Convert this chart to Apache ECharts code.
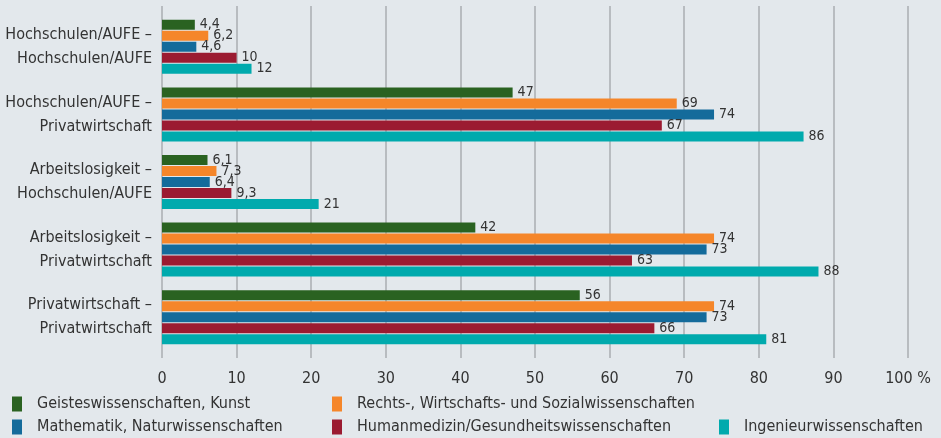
<!DOCTYPE html>
<html>
<head>
<meta charset="utf-8">
<script src="https://cdn.jsdelivr.net/npm/echarts@6/dist/echarts.min.js"></script>
<style>
  html, body { margin: 0; padding: 0; background: #e3e8ec; }
  #chart { width: 941px; height: 438px; }
</style>
</head>
<body>
<div id="chart"></div>
<script>
// Übergänge (von – nach)
var categories = [
  'Hochschulen/AUFE –\nHochschulen/AUFE',
  'Hochschulen/AUFE –\nPrivatwirtschaft',
  'Arbeitslosigkeit –\nHochschulen/AUFE',
  'Arbeitslosigkeit –\nPrivatwirtschaft',
  'Privatwirtschaft –\nPrivatwirtschaft'
];
var seriesNames = [
  'Geisteswissenschaften, Kunst',
  'Rechts-, Wirtschafts- und Sozialwissenschaften',
  'Mathematik, Naturwissenschaften',
  'Humanmedizin/Gesundheitswissenschaften',
  'Ingenieurwissenschaften'
];
var geistes = [4.4, 47, 6.1, 42, 56];
var rechts = [6.2, 69, 7.3, 74, 74];
var mathe = [4.6, 74, 6.4, 73, 73];
var humanmed = [10, 67, 9.3, 63, 66];
var ingenieur = [12, 86, 21, 88, 81];
var xTicks = [0, 10, 20, 30, 40, 50, 60, 70, 80, 90, 100];

var colors = ['#2a6221', '#f5862a', '#146b9b', '#9b1b31', '#00aaad'];
var font = '"Liberation Sans Narrow", "DejaVu Sans Condensed", sans-serif';

var chart = echarts.init(document.getElementById('chart'));

var allData = [geistes, rechts, mathe, humanmed, ingenieur];
var series = allData.map(function (d, i) {
  return {
    name: seriesNames[i],
    type: 'bar',
    data: d,
    barWidth: 10,
    barGap: '10%',
    barCategoryGap: '20%',
    itemStyle: { color: colors[i] },
    label: {
      show: true,
      position: 'right',
      distance: 5,
      color: '#333',
      fontFamily: font,
      fontSize: 14,
      formatter: function (p) { return String(p.value).replace('.', ','); }
    }
  };
});

// Legende: einzelne Einträge an festen Stellen
var legendPos = [[12, 396], [332, 396], [12, 419], [332, 419], [719, 419]];
var legends = seriesNames.map(function (n, i) {
  return {
    data: [n],
    left: legendPos[i][0],
    top: legendPos[i][1],
    padding: 0,
    itemWidth: 10,
    itemHeight: 15,
    itemGap: 0,
    icon: 'rect',
    selectedMode: false,
    textStyle: { color: '#333', fontSize: 16, fontFamily: font, padding: [0, 0, 0, 10] }
  };
});

var option = {
  backgroundColor: '#e3e8ec',
  animation: false,
  legend: legends,
  grid: { left: 162, right: 33, top: 13, bottom: 87, outerBoundsMode: 'none' },
  xAxis: [{
    type: 'value',
    min: 0,
    max: 100,
    interval: 10,
    axisLine: { show: false },
    axisTick: { show: true, length: 7, lineStyle: { color: '#b8bcc0', width: 2 } },
    splitLine: { show: true, lineStyle: { color: '#b8bcc0', width: 2 } },
    axisLabel: {
      margin: 20,
      color: '#333',
      fontSize: 16,
      fontFamily: font,
      formatter: function (v) { return v === xTicks[xTicks.length - 1] ? v + ' %' : v; }
    }
  }, {
    type: 'value',
    position: 'top',
    min: 0,
    max: 100,
    interval: 10,
    axisLine: { show: false },
    axisTick: { show: true, length: 7, lineStyle: { color: '#b8bcc0', width: 2 } },
    splitLine: { show: false },
    axisLabel: { show: false }
  }],
  yAxis: {
    type: 'category',
    inverse: true,
    data: categories,
    axisLine: { show: false },
    axisTick: { show: false },
    axisLabel: {
      margin: 10,
      color: '#333',
      fontSize: 16,
      lineHeight: 24,
      align: 'right',
      fontFamily: font
    }
  },
  series: series
};

chart.setOption(option);
</script>
</body>
</html>
